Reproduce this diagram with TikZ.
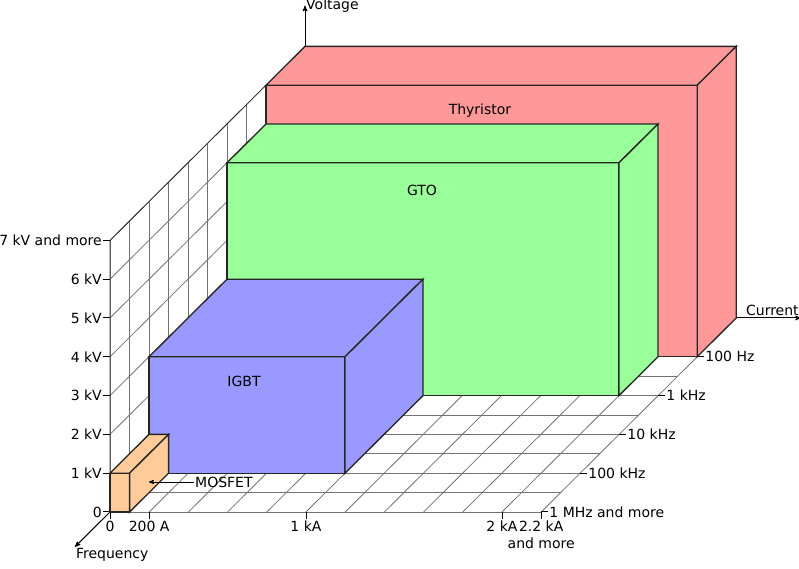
\documentclass[tikz,border=0pt]{standalone}
\usepackage{fontspec}
\setmainfont{DejaVu Sans}
\usetikzlibrary{arrows,calc}

\definecolor{thycol}{HTML}{FF9999}
\definecolor{gtocol}{HTML}{99FF99}
\definecolor{igbtcol}{HTML}{9999FF}
\definecolor{moscol}{HTML}{FFCC99}

% box: colour, current, voltage, front depth, back depth
\newcommand{\devbox}[5]{
  \filldraw[box,fill=#1] (0,0,#4) -- (#2,0,#4) -- (#2,#3,#4) -- (0,#3,#4) -- cycle;
  \filldraw[box,fill=#1] (0,#3,#4) -- (#2,#3,#4) -- (#2,#3,#5) -- (0,#3,#5) -- cycle;
  \filldraw[box,fill=#1] (#2,0,#4) -- (#2,0,#5) -- (#2,#3,#5) -- (#2,#3,#4) -- cycle;
}

\begin{document}
\begin{tikzpicture}[x={(196pt,0pt)},y={(0pt,38.8pt)},z={(39pt,38.8pt)},
  font=\fontsize{14}{16.5}\selectfont,
  grid line/.style={gray!90!black,line width=0.8pt},
  box/.style={draw=black!85,line width=1.3pt},
  tick/.style={black,line width=1pt},
  axis/.style={->,>=stealth',black,line width=1pt}]
\useasboundingbox (-110pt,-57pt) rectangle (689pt,512pt);

% floor and side wall
\foreach \c in {0,0.2,...,2.21}
  \draw[grid line] (\c,0,0) -- (\c,0,4);
\foreach \d in {0,0.5,...,4}
  \draw[grid line] (0,0,\d) -- (2.2,0,\d);
\foreach \v in {0,...,7}
  \draw[grid line] (0,\v,0) -- (0,\v,4);
\foreach \d in {0,0.5,...,4}
  \draw[grid line] (0,0,\d) -- (0,7,\d);
\draw[black!80,line width=0.8pt] (0,0,0) -- (0,7,0) -- (0,7,4);

% axes
\coordinate (O) at (0,0,0);
\coordinate (Fend) at (0,0,-0.9);
\coordinate (Vbase) at (0,7,5);
\coordinate (Vend) at (0,8.05,5);
\coordinate (Cbase) at (2.2,0,5);
\coordinate (Cend) at (2.53,0,5);
\draw[axis] (O) -- (Fend);
\draw[axis] (Vbase) -- (Vend);
\draw[axis] (Cbase) -- (Cend);
\node[anchor=north west,inner sep=1pt] (flabel) at (Fend) {Frequency};
\node[anchor=west,inner sep=1pt] (vlabel) at (Vend) {Voltage};
\node[anchor=south east,inner sep=2pt] (clabel) at (Cend) {Current};

% voltage ticks
\foreach \v/\txt in {0/0,1/1 kV,2/2 kV,3/3 kV,4/4 kV,5/5 kV,6/6 kV,7/7 kV and more} {
  \draw[tick] (0,\v,0) -- ++(-7pt,0);
  \node[anchor=east,inner sep=1pt] (vt\v) at ($(0,\v,0)+(-7pt,0)$) {\txt};
}
% current ticks
\foreach \c/\txt [count=\i] in {0/0,0.2/200 A,1/1 kA,2/2 kA} {
  \draw[tick] (\c,0,0) -- ++(0,-7pt);
  \node[anchor=north,inner sep=2pt] (ct\i) at ($(\c,0,0)+(0,-7pt)$) {\txt};
}
\draw[tick] (2.2,0,0) -- ++(0,-7pt);
\node[anchor=north,inner sep=2pt,align=center] (ct5) at ($(2.2,0,0)+(0,-7pt)$) {2.2 kA\\and more};
% frequency ticks
\foreach \d/\txt in {0/1 MHz and more,1/100 kHz,2/10 kHz,3/1 kHz,4/100 Hz} {
  \draw[tick] (2.2,0,\d) -- ++(7pt,0);
  \node[anchor=west,inner sep=1pt] (ft\d) at ($(2.2,0,\d)+(7pt,0)$) {\txt};
}

% devices, back to front
\devbox{thycol}{2.2}{7}{4}{5}
\devbox{gtocol}{2}{6}{3}{4}
\devbox{igbtcol}{1}{3}{1}{3}
\devbox{moscol}{0.1}{1}{0}{1}

\node (thy) at ($(0,0,4)+(214pt,246pt)$) {Thyristor};
\node (gto) at ($(0,0,3)+(195pt,205pt)$) {GTO};
\node (igbt) at ($(0,0,1)+(95pt,92pt)$) {IGBT};
\node[anchor=west,inner sep=1pt] (mos) at ($(O)+(84pt,30pt)$) {MOSFET};
\coordinate (mosarrow) at ($(O)+(39pt,30pt)$);
\draw[->,>=stealth',line width=0.8pt] (mos.west) -- (mosarrow);
\end{tikzpicture}
\end{document}
